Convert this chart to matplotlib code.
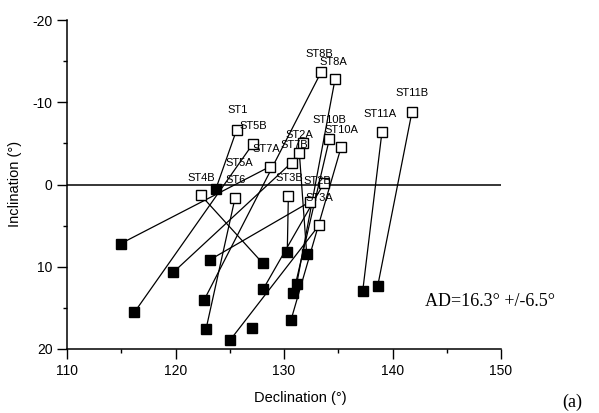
import numpy as np
import matplotlib
matplotlib.use("Agg")
import matplotlib.pyplot as plt
from matplotlib.ticker import MultipleLocator, FixedLocator

# Site directions: open square = first state, filled square = second state
sites = ["ST8B", "ST8A", "ST11B", "ST11A", "ST1", "ST5B", "ST10B", "ST10A",
         "ST2A", "ST7B", "ST7A", "ST5A", "ST4B", "ST6", "ST3B", "ST2B",
         "ST3A", "ST4A", "ST9"]
open_dec = [133.41, 134.70, 141.80, 139.03, 125.64, 127.12, 134.18, 135.28,
            131.78, 131.41, 130.71, 128.71, 122.32, 125.48, 130.40, 133.69,
            132.40, 133.23, np.nan]
open_inc = [-13.64, -12.78, -8.87, -6.42, -6.67, -4.92, -5.53, -4.62,
            -5.04, -3.89, -2.67, -2.18, 1.28, 1.69, 1.41, -0.18,
            2.10, 4.95, np.nan]
filled_dec = [122.65, 131.17, 138.63, 137.25, 123.73, 116.20, 130.86, 130.65,
              np.nan, 132.09, 119.80, 114.95, 128.04, 122.81, 130.30, 128.09,
              123.18, 125.02, 127.08]
filled_inc = [14.01, 12.09, 12.38, 12.99, 0.49, 15.56, 13.24, 16.45,
              np.nan, 8.42, 10.67, 7.19, 9.57, 17.59, 8.22, 12.70,
              9.15, 18.94, 17.39]

# Site label text and anchor (declination, inclination)
label_text = ["ST8B", "ST8A", "ST11B", "ST11A", "ST1", "ST5B", "ST10B", "ST10A",
              "ST2A", "ST7A", "ST7B", "ST5A", "ST4B", "ST6", "ST3B", "ST2B", "ST3A"]
label_dec = [131.94, 133.30, 140.23, 137.37, 124.75, 125.94, 132.58, 133.70,
             130.09, 127.05, 129.65, 124.65, 121.06, 124.56, 129.17, 131.75, 131.94]
label_inc = [-15.90, -14.85, -11.07, -8.62, -9.00, -7.16, -7.85, -6.65,
             -6.06, -4.30, -4.85, -2.63, -0.80, -0.55, -0.80, -0.43, 1.65]

x_ticks = [110, 120, 130, 140, 150]
y_ticks = [-20, -10, 0, 10, 20]
stats_text = "AD=16.3\u00b0 +/-6.5\u00b0"

plt.rcParams['font.family'] = ['Liberation Sans', 'DejaVu Sans']

fig = plt.figure(figsize=(5.99, 4.13), dpi=100)
ax = fig.add_axes([0.1119, 0.155, 0.7245, 0.7965])

ax.axhline(0, color="black", lw=1.1, zorder=1)

for od, oi, fd, fi in zip(open_dec, open_inc, filled_dec, filled_inc):
    ax.plot([od, fd], [oi, fi], color="black", lw=0.9, zorder=2)

ax.plot(filled_dec, filled_inc, linestyle="none", marker="s", ms=6.5,
        mfc="black", mec="black", zorder=3)
ax.plot(open_dec, open_inc, linestyle="none", marker="s", ms=6.5,
        mfc="white", mec="black", mew=1.0, zorder=4)

for t, d, i in zip(label_text, label_dec, label_inc):
    ax.text(d, i, t, fontsize=8, ha="left", va="center", zorder=5)

ax.set_xlim(110, 150)
ax.set_ylim(20, -20)
ax.xaxis.set_major_locator(FixedLocator(x_ticks))
ax.yaxis.set_major_locator(FixedLocator(y_ticks))
ax.xaxis.set_minor_locator(MultipleLocator(5))
ax.yaxis.set_minor_locator(MultipleLocator(5))
ax.set_xticklabels([str(v) for v in x_ticks], fontsize=10)
ax.set_yticklabels([str(v) for v in y_ticks], fontsize=10)
ax.tick_params(which="major", direction="out", length=7, width=1)
ax.tick_params(which="minor", direction="out", length=3, width=1)
ax.spines["top"].set_visible(False)
ax.spines["right"].set_visible(False)
ax.spines["left"].set_linewidth(1.1)
ax.spines["bottom"].set_linewidth(1.1)

ax.text(143.0, 14.2, stats_text, fontsize=13, family="Liberation Serif",
        ha="left", va="center", clip_on=False)

fig.text(0.501, 0.036, "Declination (\u00b0)", ha="center", va="center", fontsize=10.5)
fig.text(0.025, 0.555, "Inclination (\u00b0)", ha="center", va="center",
         rotation=90, fontsize=10.5)
fig.text(0.955, 0.025, "(a)", ha="center", va="center", fontsize=13,
         family="Liberation Serif")

fig.savefig("out.png", dpi=100)
